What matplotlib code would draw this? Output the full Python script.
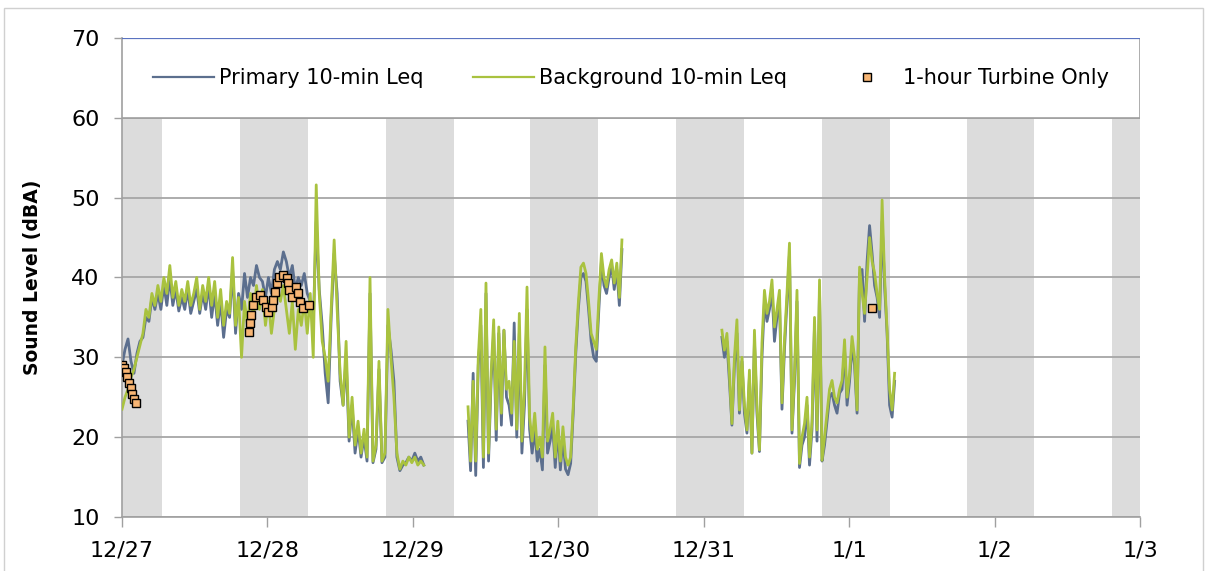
import matplotlib
matplotlib.use("Agg")
import matplotlib.pyplot as plt
import numpy as np
from matplotlib.patches import Rectangle

plt.rcParams['font.family'] = ['DejaVu Sans']

day_labels = ['12/27', '12/28', '12/29', '12/30', '12/31', '1/1', '1/2', '1/3']

# night shading, hours from 12/27 00:00
night_start = [0.0, 19.5, 43.5, 67.4, 91.5, 115.5, 139.4, 163.4]
night_end = [6.6, 30.7, 54.8, 78.5, 102.6, 126.7, 150.5, 168.0]

# 10-min Leq segments: (start hour, end hour)
seg1_span = (0.0, 49.8)
seg1_bg = [23.5, 25, 26, 27.5, 28.5, 30, 31.5, 33, 36, 35,
           38, 36.5, 39, 37, 40, 38, 41.5, 37.5, 39.5, 36.5,
           38.5, 37, 39.5, 36.5, 38, 40, 36, 39, 37, 40,
           36.5, 39.5, 35, 38.5, 34, 37, 35.5, 42.5, 34, 37.5,
           30, 37, 34, 38, 35, 39, 36, 38.5, 34, 37,
           33, 36, 38.5, 37, 39, 36, 33, 37, 31, 36,
           34, 37, 33, 38, 30, 51.6, 38, 32, 30, 27,
           36, 44.7, 36, 28, 24, 32, 20, 25, 19, 22,
           18, 21, 17.5, 40, 17, 19, 29.5, 17, 18, 36,
           30, 25, 18, 16, 17, 16.5, 17.5, 16.8, 17.5, 16.5,
           17, 16.5]
seg1_pri = [29, 31, 32.3, 29.5, 28, 30.5, 32, 32.5, 35, 34.5,
            37.5, 36, 38, 36, 39, 36.5, 40, 36.5, 38.5, 35.8,
            37.5, 36, 38.5, 35.5, 37, 38.5, 35.5, 38, 36, 39,
            35, 38, 34, 37, 32.5, 36, 35, 41, 33, 38,
            36, 40.5, 37.5, 40, 39, 41.5, 40, 39.5, 37.5, 40,
            38, 41, 42, 41, 43.2, 42, 40, 41.5, 38.5, 40,
            39, 40.5, 38, 37, 34, 47, 38.5, 34, 28, 24.3,
            35, 43, 38, 27, 24, 30, 19.5, 24, 18, 21,
            17.5, 20, 17, 38, 16.8, 18.5, 28.5, 16.8, 17.5, 34,
            31, 27, 17.5, 15.8, 16.5, 16.8, 17.5, 17, 18, 17,
            17.5, 16.5]

seg2_span = (57.1, 82.5)
seg2_bg = [23.8, 17, 27, 17, 30, 36, 17.5, 39.3, 18, 28,
           34.7, 21, 33.8, 23, 33.4, 26, 27, 23, 32, 21,
           35.5, 19.5, 26, 38.8, 22.5, 19.5, 23, 18.5, 20, 17.5,
           31.3, 19.5, 21, 23, 17.5, 22, 17, 21.3, 17.5, 16.5,
           17.5, 23.8, 31.3, 36.8, 41.3, 41.8, 40.5, 37, 33, 32,
           31, 37.2, 43, 40, 38.8, 41, 42.2, 39.3, 41.8, 37.5,
           44.7]
seg2_pri = [22, 15.8, 28, 15.2, 29, 34, 16.2, 38, 17, 27,
            33, 19.6, 33, 21.5, 33.4, 25, 24, 21.5, 34.3, 20,
            33, 18, 24, 36, 21, 18, 21, 17, 18.5, 15.9,
            29, 18, 19.5, 21.5, 16.2, 21, 15.9, 20, 16, 15.3,
            16.7, 23, 30.5, 36, 40, 40.5, 39.5, 36, 32, 30,
            29.5, 36, 42, 39, 38, 40, 41.5, 38.5, 41, 36.5,
            43.5]

seg3_span = (99.0, 127.5)
seg3_bg = [33.4, 30.9, 33, 28, 21.7, 30, 34.7, 23.4, 30, 24,
           20.9, 28.4, 18, 33.4, 24, 18.4, 31.8, 38.4, 35.5, 37,
           39.7, 33.8, 36, 38.4, 24.3, 32.2, 38, 44.3, 20.9, 28,
           38.4, 16.7, 20, 21.7, 25, 17.5, 22, 35, 20.9, 39.7,
           17.1, 20, 23, 26, 27.1, 25, 24.3, 26, 27.1, 32.2,
           25, 28, 32.6, 30, 23.4, 41.3, 38, 35.5, 40, 45,
           42, 40.6, 38, 36, 49.7, 40, 33.4, 26, 23.4, 28]
seg3_pri = [32.5, 30, 32, 27, 21.5, 29, 33, 23, 29.5, 23,
            20.5, 27.5, 18, 32, 23, 18.2, 30, 37, 34.5, 36,
            38.5, 32, 35, 37, 23.5, 31, 37, 43, 20.5, 27,
            37, 16.2, 19, 20, 24, 16.5, 21, 34, 19.5, 38.5,
            17, 19, 22, 25, 25.5, 24, 23, 25.5, 26, 31,
            24, 27, 31.5, 29, 23, 40.5, 41, 34.5, 42, 46.5,
            43, 39, 37.5, 35, 47, 39, 33, 24, 22.5, 27]

# 1-hour turbine only points
turb_hours = [0, 0.33, 0.66, 0.9, 1.15, 1.4, 1.65, 2.0, 2.3,
              20.95, 21.1, 21.3, 21.6, 22.1, 22.8, 23.3, 23.8, 24.1, 24.7,
              24.9, 25.2, 25.6, 25.9, 26.6, 27.2, 27.4, 27.5, 28.0, 28.7,
              29.0, 29.4, 29.9, 30.8,
              123.7]
turb_vals = [29, 28.7, 28.2, 27.5, 26.8, 26.1, 25.4, 24.8, 24.3,
             33.2, 34.3, 35.3, 36.5, 37.5, 37.8, 37.2, 36.3, 35.7, 36.3,
             37.2, 38.2, 39.3, 40.1, 40.3, 39.9, 39.3, 38.4, 37.5, 38.8,
             38, 36.9, 36.2, 36.5,
             36.2]

pri_color = '#5C6F8E'
bg_color = '#A9C23F'

fig = plt.figure(figsize=(12.07, 5.71), dpi=100)
ax = fig.add_axes([0.1011, 0.0946, 0.8434, 0.8389])

for s, e in zip(night_start, night_end):
    ax.axvspan(s / 24, e / 24, ymin=0, ymax=5 / 6, color='#DCDCDC', lw=0, zorder=0.5)

segs = [(seg1_span, seg1_bg, seg1_pri), (seg2_span, seg2_bg, seg2_pri), (seg3_span, seg3_bg, seg3_pri)]
for i, (span, bg, pri) in enumerate(segs):
    t = np.linspace(span[0], span[1], len(bg)) / 24
    ax.plot(t, pri, color=pri_color, lw=2.0, zorder=2,
            label='Primary 10-min Leq' if i == 0 else None)
    ax.plot(t, bg, color=bg_color, lw=2.0, zorder=3,
            label='Background 10-min Leq' if i == 0 else None)

ax.plot(np.array(turb_hours) / 24, turb_vals, ls='none', marker='s', ms=6,
        mfc='#F7B574', mec='black', mew=1.0, zorder=4, label='1-hour Turbine Only')

# legend box across the top
ax.add_patch(Rectangle((0, 60), 7, 10, facecolor='white', edgecolor='#A0A0A0', lw=1.2, zorder=5))
ax.axhline(70, color='#5A73C0', lw=1.6, zorder=6)
leg = ax.legend(loc='center', bbox_to_anchor=(0, 5 / 6, 1, 1 / 6), ncol=3, frameon=False,
                fontsize=15, handlelength=2.9, handletextpad=0.25, columnspacing=2.4)
for h in leg.legend_handles[:2]:
    h.set_linewidth(1.6)
leg.set_zorder(7)

ax.set_xlim(0, 7)
ax.set_ylim(10, 70)
ax.set_xticks(range(8))
ax.set_xticklabels(day_labels)
ax.set_yticks(range(10, 71, 10))
ax.yaxis.grid(True, color='#A6A6A6', lw=1.3)
ax.tick_params(axis='y', direction='out', length=6, width=1, color='#A0A0A0', labelsize=16, pad=10)
ax.tick_params(axis='x', direction='out', length=7, width=1, color='#A0A0A0', labelsize=16, pad=10)
for side in ['top', 'right']:
    ax.spines[side].set_visible(False)
for side in ['left', 'bottom']:
    ax.spines[side].set_color('#A0A0A0')
    ax.spines[side].set_linewidth(1.2)

ax.set_ylabel('Sound Level (dBA)', fontsize=13.5, fontweight='bold')
ax.yaxis.set_label_coords(-0.0786, 0.5)

fig.patches.append(Rectangle((0.003, -0.01), 0.994, 0.996, transform=fig.transFigure,
                             fill=False, edgecolor='#D0D0D0', lw=1.0))

fig.savefig('out.png', dpi=100)
